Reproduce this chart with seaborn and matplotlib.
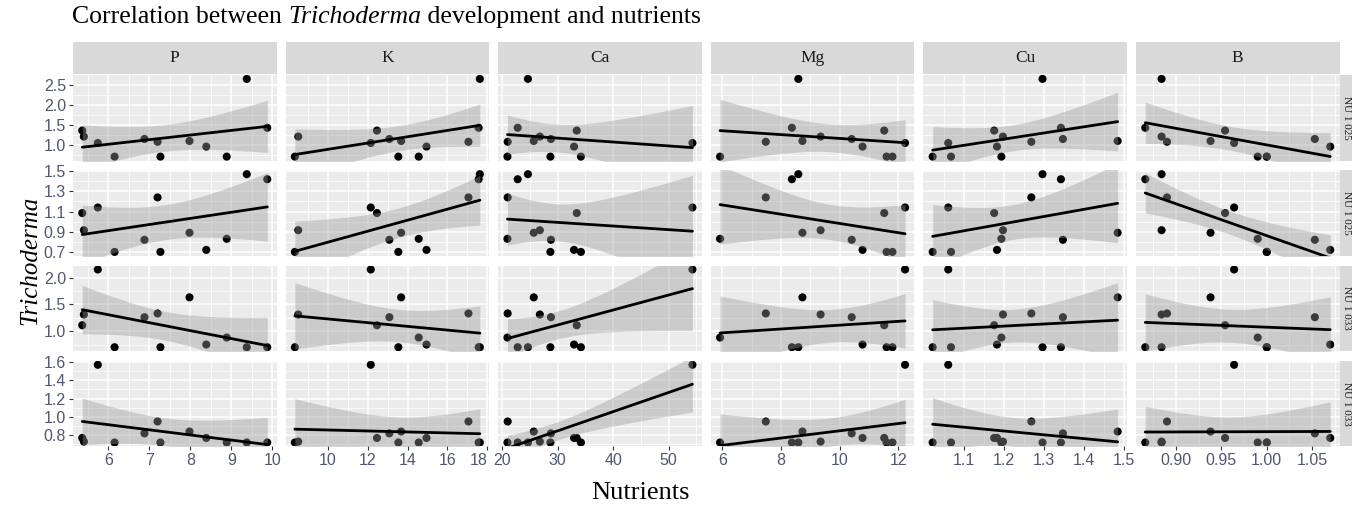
import numpy as np
import pandas as pd
import matplotlib
matplotlib.use("Agg")
import matplotlib.pyplot as plt
import seaborn as sns
from matplotlib.patches import Rectangle
from matplotlib.ticker import FixedLocator, FormatStrFormatter

# ---- data: 12 samples, nutrient contents and Trichoderma responses ----
nutrients = ["P", "K", "Ca", "Mg", "Cu", "B"]
strains = ["NU 1 025", "NU 1 025", "NU 1 033", "NU 1 033"]

P = [5.36, 5.40, 5.74, 6.15, 6.88, 7.20, 7.27, 7.98, 8.39, 8.89, 9.38, 9.88]
K = [12.47, 8.53, 12.16, 8.36, 13.09, 17.05, 13.54, 13.68, 14.95, 14.56, 17.62, 17.56]
Ca = [33.45, 26.8, 54.3, 28.7, 28.8, 21.0, 34.2, 25.7, 32.96, 20.96, 24.65, 22.8]
Mg = [11.52, 9.35, 12.23, 11.6, 10.41, 7.48, 11.8, 8.73, 10.78, 5.92, 8.59, 8.37]
Cu = [1.175, 1.197, 1.06, 1.021, 1.347, 1.268, 1.067, 1.484, 1.182, 1.193, 1.296, 1.342]
B = [0.954, 0.884, 0.964, 1.000, 1.053, 0.890, 1.000, 0.938, 1.070, 0.990, 0.884, 0.866]

resp1 = [1.36, 1.21, 1.05, 0.71, 1.15, 1.08, 0.71, 1.10, 0.96, 0.71, 2.65, 1.43]
resp2 = [1.085, 0.915, 1.14, 0.70, 0.82, 1.24, 0.70, 0.89, 0.72, 0.83, 1.47, 1.42]
resp3 = [1.11, 1.31, 2.15, 0.70, 1.26, 1.33, 0.70, 1.63, 0.75, 0.88, 0.70, 0.70]
resp4 = [0.77, 0.73, 1.57, 0.72, 0.82, 0.95, 0.72, 0.84, 0.77, 0.72, 0.72, 0.72]

x_ticks = {
    "P": [6, 7, 8, 9, 10],
    "K": [10, 12, 14, 16, 18],
    "Ca": [20, 30, 40, 50],
    "Mg": [6, 8, 10, 12],
    "Cu": [1.1, 1.2, 1.3, 1.4, 1.5],
    "B": [0.90, 0.95, 1.00, 1.05],
}
x_fmt = {"P": "%d", "K": "%d", "Ca": "%d", "Mg": "%d", "Cu": "%.1f", "B": "%.2f"}
y_ticks = [[1.0, 1.5, 2.0, 2.5], [0.7, 0.9, 1.1, 1.3, 1.5], [1.0, 1.5, 2.0],
           [0.8, 1.0, 1.2, 1.4, 1.6]]

nut_values = {"P": P, "K": K, "Ca": Ca, "Mg": Mg, "Cu": Cu, "B": B}
responses = [resp1, resp2, resp3, resp4]

rows = []
for r, (strain, resp) in enumerate(zip(strains, responses)):
    for n in nutrients:
        for xv, yv in zip(nut_values[n], resp):
            rows.append({"row": r, "nutrient": n, "x": xv, "y": yv})
df = pd.DataFrame(rows)

T975_DF10 = 2.228  # Student t quantile, 10 degrees of freedom


def lm_band(x, y, n=80):
    x = np.asarray(x, float)
    y = np.asarray(y, float)
    b1, b0 = np.polyfit(x, y, 1)
    xs = np.linspace(x.min(), x.max(), n)
    yh = b0 + b1 * xs
    res = y - (b0 + b1 * x)
    s = np.sqrt(np.sum(res ** 2) / (len(x) - 2))
    sxx = np.sum((x - x.mean()) ** 2)
    se = s * np.sqrt(1 / len(x) + (xs - x.mean()) ** 2 / sxx)
    return xs, yh, yh - T975_DF10 * se, yh + T975_DF10 * se


def minors(ticks):
    step = ticks[1] - ticks[0]
    return [ticks[0] - step / 2] + [t + step / 2 for t in ticks]


sns.set_theme(style="darkgrid")
plt.rcParams["font.family"] = ["Liberation Sans", "DejaVu Sans"]

W, H = 1352, 513
fig = plt.figure(figsize=(W / 100, H / 100), dpi=100)
fig.patch.set_facecolor("white")

col_left = [73 + i * 212.6 for i in range(6)]
pw = 203.5
row_top = [75 + j * 95.3 for j in range(4)]
ph = 85.5

serif = ["Liberation Serif", "DejaVu Serif"]
tick_col = "#4F5870"

for j in range(4):
    ys = responses[j]
    ylo, yhi = min(ys), max(ys)
    yr = yhi - ylo
    for i, n in enumerate(nutrients):
        ax = fig.add_axes([col_left[i] / W, 1 - (row_top[j] + ph) / H, pw / W, ph / H])
        ax.set_facecolor("#EBEBEB")
        sub = df[(df["row"] == j) & (df["nutrient"] == n)]
        sns.scatterplot(data=sub, x="x", y="y", ax=ax, color="black", s=34,
                        edgecolor="none", zorder=2, legend=False)
        xs, yh, lo, hi = lm_band(sub["x"], sub["y"])
        ax.fill_between(xs, lo, hi, color="#999999", alpha=0.4, lw=0, zorder=3)
        sns.lineplot(x=xs, y=yh, ax=ax, color="black", lw=2, zorder=4)
        xv = nut_values[n]
        xr = max(xv) - min(xv)
        ax.set_xlim(min(xv) - 0.05 * xr, max(xv) + 0.05 * xr)
        ax.set_ylim(ylo - 0.05 * yr, yhi + 0.05 * yr)
        ax.xaxis.set_major_locator(FixedLocator(x_ticks[n]))
        ax.xaxis.set_minor_locator(FixedLocator(minors(x_ticks[n])))
        ax.yaxis.set_major_locator(FixedLocator(y_ticks[j]))
        ax.yaxis.set_minor_locator(FixedLocator(minors(y_ticks[j])))
        ax.xaxis.set_major_formatter(FormatStrFormatter(x_fmt[n]))
        ax.yaxis.set_major_formatter(FormatStrFormatter("%.1f"))
        ax.grid(which="major", color="white", lw=1.1)
        ax.grid(which="minor", color="white", lw=0.55)
        for s in ax.spines.values():
            s.set_visible(False)
        ax.set_xlabel("")
        ax.set_ylabel("")
        ax.tick_params(axis="both", which="minor", length=0)
        ax.tick_params(axis="both", which="major", length=3, width=0.8,
                       color="#333333", labelsize=11.5, labelcolor=tick_col, pad=2)
        if i != 0:
            ax.tick_params(axis="y", which="major", left=False, labelleft=False)
        else:
            ax.tick_params(axis="y", which="major", left=True)
        if j != 3:
            ax.tick_params(axis="x", which="major", bottom=False, labelbottom=False)
        else:
            ax.tick_params(axis="x", which="major", bottom=True)
            if n == "K":
                # keep the last label clear of the neighbouring panel's first label
                ax.xaxis.get_major_ticks()[-1].label1.set_horizontalalignment("right")
        if j == 0:
            fig.patches.append(Rectangle((col_left[i] / W, 1 - 73.5 / H), pw / W, 31.5 / H,
                                         transform=fig.transFigure, facecolor="#D9D9D9",
                                         edgecolor="none"))
            fig.text((col_left[i] + pw / 2) / W, 1 - 58 / H, n, ha="center", va="center",
                     fontsize=12.5, family=serif, color="#1A1A1A")
    # right strips (cut by the figure edge, as in the original)
    fig.patches.append(Rectangle((1340 / W, 1 - (row_top[j] + ph) / H), 31 / W, ph / H,
                                 transform=fig.transFigure, facecolor="#D9D9D9",
                                 edgecolor="none"))
    fig.text(1346 / W, 1 - (row_top[j] + ph / 2) / H, strains[j], rotation=-90,
             ha="center", va="center", fontsize=8, family=serif, color="#1A1A1A")

# title built from pieces (italic genus name)
fig.canvas.draw()
renderer = fig.canvas.get_renderer()
pieces = [("Correlation between ", "normal"), ("Trichoderma", "italic"),
          (" development and nutrients", "normal")]
xcur = 72
for txt, sty in pieces:
    t = fig.text(xcur / W, 1 - 17 / H, txt, ha="left", va="center", fontsize=18.5,
                 family=serif, style=sty, color="black")
    bb = t.get_window_extent(renderer=renderer)
    xcur += bb.width

fig.text(30 / W, 1 - 260 / H, "Trichoderma", rotation=90, ha="center", va="center",
         fontsize=18, family=serif, style="italic", color="black")
fig.text(640 / W, 1 - 493 / H, "Nutrients", ha="center", va="center",
         fontsize=19, family=serif, color="black")

fig.savefig("out.png", dpi=100, facecolor="white")
